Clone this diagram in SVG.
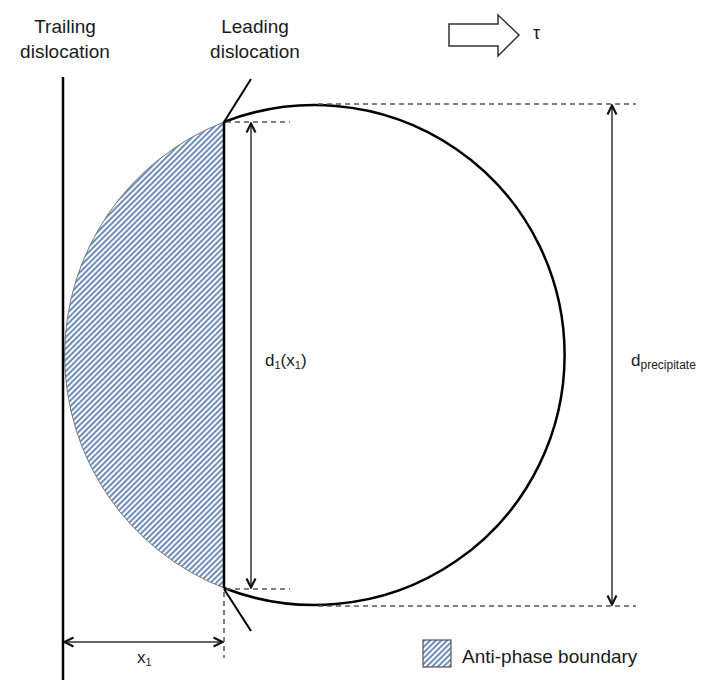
<svg xmlns="http://www.w3.org/2000/svg" width="713" height="680" viewBox="0 0 713 680">
<style>
text{font-family:"Liberation Sans",Arial,sans-serif;fill:#1a1a1a}
.lbl{font-size:19px}
.dash{stroke:#555;stroke-width:1.5;stroke-dasharray:5 4;fill:none}
.dim{stroke:#333;stroke-width:1.5;fill:none}
.thick{stroke:#000;stroke-width:2.5;fill:none}
</style>
<defs>
<pattern id="hatch" width="4" height="4" patternUnits="userSpaceOnUse" patternTransform="rotate(45)">
<rect width="4" height="4" fill="#fff"/>
<line x1="1" y1="0" x2="1" y2="4" stroke="#3d67a3" stroke-width="1.5"/>
</pattern>
<marker id="ah" viewBox="0 0 12 12" refX="11" refY="6" markerWidth="12" markerHeight="12" markerUnits="userSpaceOnUse" orient="auto-start-reverse">
<path d="M1.5,1.5 L10.5,6 L1.5,10.5" fill="none" stroke="#111" stroke-width="2.2"/>
</marker>
</defs>
<g id="hatched-region">
<path d="M224,122 A250,250 0 0 0 224,588 Z" fill="url(#hatch)" stroke="#777" stroke-width="1"/>
</g>
<g id="precipitate">
<path d="M224,122 A250,250 0 1 1 224,588" class="thick"/>
</g>
<g id="trailing-dislocation">
<line x1="63" y1="77" x2="63" y2="680" class="thick"/>
<text class="lbl" x="65" y="33" text-anchor="middle">Trailing</text>
<text class="lbl" x="65" y="58" text-anchor="middle">dislocation</text>
</g>
<g id="leading-dislocation">
<line x1="224" y1="122" x2="224" y2="588" class="thick"/>
<line x1="224" y1="122" x2="251" y2="79" stroke="#000" stroke-width="2"/>
<line x1="224" y1="589" x2="251" y2="631" stroke="#000" stroke-width="2"/>
<text class="lbl" x="255" y="33" text-anchor="middle">Leading</text>
<text class="lbl" x="255" y="58" text-anchor="middle">dislocation</text>
</g>
<g id="shear-arrow">
<polygon points="449,24 498,24 498,15 519,35 498,56 498,46 449,46" fill="#fff" stroke="#333" stroke-width="1.5"/>
<text x="533" y="39" font-size="18">τ</text>
</g>
<g id="connectors">
<line x1="226" y1="122" x2="290" y2="122" class="dash"/>
<line x1="226" y1="589" x2="290" y2="589" class="dash"/>
<line x1="318" y1="104" x2="636" y2="104" class="dash"/>
<line x1="318" y1="606" x2="636" y2="606" class="dash"/>
<line x1="224" y1="592" x2="224" y2="658" class="dash"/>
<line x1="251" y1="123" x2="251" y2="588" class="dim" marker-start="url(#ah)" marker-end="url(#ah)"/>
<line x1="612" y1="105" x2="612" y2="605" class="dim" marker-start="url(#ah)" marker-end="url(#ah)"/>
<line x1="64" y1="642" x2="223" y2="642" class="dim" marker-start="url(#ah)" marker-end="url(#ah)"/>
</g>
<g id="dimension-labels">
<text x="265" y="366" font-size="17">d<tspan font-size="11" dy="3">1</tspan><tspan dy="-3">(x</tspan><tspan font-size="11" dy="3">1</tspan><tspan dy="-3">)</tspan></text>
<text x="631" y="366" font-size="17">d<tspan font-size="12" dy="3">precipitate</tspan></text>
<text x="137" y="663" font-size="17">x<tspan font-size="11" dy="3">1</tspan></text>
</g>
<g id="legend">
<rect x="423" y="640" width="28" height="27" fill="url(#hatch)" stroke="#555" stroke-width="1.2"/>
<text class="lbl" x="462" y="663">Anti-phase boundary</text>
</g>
</svg>
